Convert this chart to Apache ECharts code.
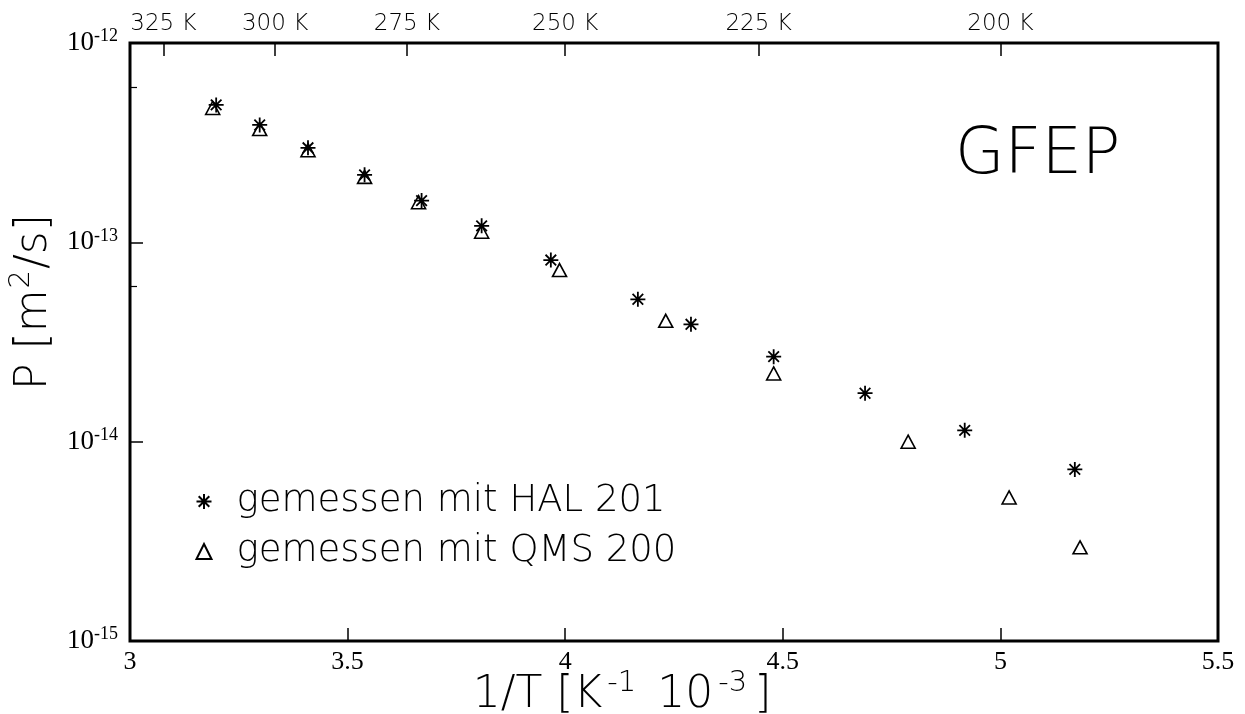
<!DOCTYPE html>
<html>
<head>
<meta charset="utf-8">
<title>GFEP Permeation</title>
<script src="https://cdn.jsdelivr.net/npm/echarts@6/dist/echarts.min.js"></script>
<style>
  html, body { margin: 0; padding: 0; background: #fff; }
  #chart { width: 1245px; height: 714px; }
</style>
</head>
<body>
<div id="chart"></div>
<script>
// Inverse temperature 1/T in 1e-3 K^-1 and permeation coefficient P in m^2/s
const halX = [3.198, 3.298, 3.409, 3.539, 3.670, 3.808, 3.967, 4.167, 4.289, 4.479, 4.689, 4.918, 5.171];
const halP = [4.89e-13, 3.88e-13, 2.98e-13, 2.18e-13, 1.62e-13, 1.21e-13, 8.15e-14, 5.18e-14, 3.88e-14, 2.67e-14, 1.75e-14, 1.14e-14, 7.26e-15];

const qmsX = [3.190, 3.298, 3.409, 3.539, 3.663, 3.808, 3.987, 4.231, 4.479, 4.788, 5.020, 5.183];
const qmsP = [4.72e-13, 3.70e-13, 2.90e-13, 2.13e-13, 1.59e-13, 1.13e-13, 7.26e-14, 4.04e-14, 2.20e-14, 1.00e-14, 5.25e-15, 2.95e-15];

// Temperatures marked on the top axis (K)
const topTemps = [325, 300, 275, 250, 225, 200];
const bottomTicks = [3, 3.5, 4, 4.5, 5, 5.5];
const yTicks = [1e-15, 1e-14, 1e-13, 1e-12];
const yMinorTicks = [6e-14, 6e-13];

const seriesNames = ['gemessen mit HAL 201', 'gemessen mit QMS 200'];

const starPath = 'path://M0,-10L0,10M-10,0L10,0M-7.07,-7.07L7.07,7.07M-7.07,7.07L7.07,-7.07';
const sans = 'DejaVu Sans';
const serif = 'Liberation Serif';

const pairs = (xs, ys) => xs.map((x, i) => [x, ys[i]]);

const chart = echarts.init(document.getElementById('chart'), null, { renderer: 'canvas' });

// Axis titles: thin sans with raised exponents
const titleText = { fontFamily: sans, fontSize: 44, fontWeight: 200, color: '#000', verticalAlign: 'bottom' };
const xTitleRich = {
  n: titleText,
  s: { fontFamily: sans, fontSize: 29, fontWeight: 200, color: '#000', verticalAlign: 'top', padding: [0, 7, 20, 5] }
};
const yTitleRich = {
  n: titleText,
  s: { fontFamily: sans, fontSize: 29, fontWeight: 200, color: '#000', verticalAlign: 'top', padding: [0, 1, 20, 1] }
};

chart.setOption({
  animation: false,
  backgroundColor: '#fff',
  grid: {
    left: 130, right: 27, top: 43, bottom: 73,
    outerBoundsMode: 'none',
    containLabel: false,
    show: true, borderColor: '#000', borderWidth: 3, backgroundColor: 'transparent'
  },
  legend: {
    left: 189, top: 478, orient: 'vertical',
    itemWidth: 15, itemHeight: 15, itemGap: 13,
    data: seriesNames,
    textStyle: { fontFamily: sans, fontSize: 37, fontWeight: 200, color: '#000', padding: [0, 0, 0, 20] }
  },
  xAxis: [
    {
      type: 'value', position: 'bottom', min: 3, max: 5.5, interval: 0.5,
      axisLine: { show: false },
      axisTick: { show: true, inside: true, length: 13, lineStyle: { color: '#000', width: 1.5 } },
      splitLine: { show: false },
      axisLabel: {
        color: '#000', fontFamily: serif, fontSize: 26, margin: 8,
        customValues: bottomTicks,
        formatter: v => String(v)
      },
      name: '{n|1/T [K}{s|-1}{n| 10}{s|-3}{n|]}',
      nameLocation: 'middle', nameGap: 28, nameMoveOverlap: false,
      nameTextStyle: { rich: xTitleRich, padding: [0, 104, 0, 0] }
    },
    {
      type: 'value', position: 'top', min: 3, max: 5.5,
      axisLine: { show: false },
      axisTick: {
        show: true, inside: true, length: 13, lineStyle: { color: '#000', width: 1.5 },
        customValues: topTemps.map(t => 1000 / t)
      },
      splitLine: { show: false },
      axisLabel: {
        color: '#000', fontFamily: sans, fontSize: 23, fontWeight: 200, margin: 7,
        customValues: topTemps.map(t => 1000 / t),
        formatter: v => Math.round(1000 / v) + ' K'
      }
    }
  ],
  yAxis: [
    {
      type: 'log', logBase: 10, min: 1e-15, max: 1e-12,
      axisLine: { show: false },
      axisTick: { show: true, inside: true, length: 13, lineStyle: { color: '#000', width: 1.5 }, customValues: yTicks },
      splitLine: { show: false },
      axisLabel: {
        margin: 12, color: '#000', fontFamily: serif, fontSize: 27,
        customValues: yTicks,
        formatter: v => '{base|10}{exp|' + Math.round(Math.log10(v)) + '}',
        rich: {
          base: { fontFamily: serif, fontSize: 27, color: '#000' },
          exp: { fontFamily: serif, fontSize: 18, color: '#000', verticalAlign: 'top', padding: [0, 0, 13, 0] }
        }
      },
      name: '{n|P [m}{s|2}{n|/s]}',
      nameLocation: 'middle', nameRotate: 90, nameGap: 68,
      nameTextStyle: { rich: yTitleRich, padding: [0, 0, 0, 80] }
    },
    {
      type: 'log', logBase: 10, min: 1e-15, max: 1e-12, position: 'left',
      axisLine: { show: false },
      axisTick: { show: true, inside: true, length: 7, lineStyle: { color: '#000', width: 1.2 }, customValues: yMinorTicks },
      splitLine: { show: false },
      axisLabel: { show: false }
    }
  ],
  graphic: [
    {
      type: 'text', left: 955, top: 124,
      style: { text: 'GFEP', fontFamily: sans, fontSize: 64, fontWeight: 200, fill: '#000' }
    }
  ],
  series: [
    {
      name: seriesNames[1], type: 'scatter', xAxisIndex: 0, yAxisIndex: 0,
      data: pairs(qmsX, qmsP),
      symbol: 'triangle', symbolSize: [14, 13],
      itemStyle: { color: '#fff', borderColor: '#000', borderWidth: 1.6, opacity: 1 },
      z: 3
    },
    {
      name: seriesNames[0], type: 'scatter', xAxisIndex: 0, yAxisIndex: 0,
      data: pairs(halX, halP),
      symbol: starPath, symbolSize: 15,
      itemStyle: { color: 'none', borderColor: '#000', borderWidth: 1.8, opacity: 1 },
      z: 4
    }
  ]
});
</script>
</body>
</html>
